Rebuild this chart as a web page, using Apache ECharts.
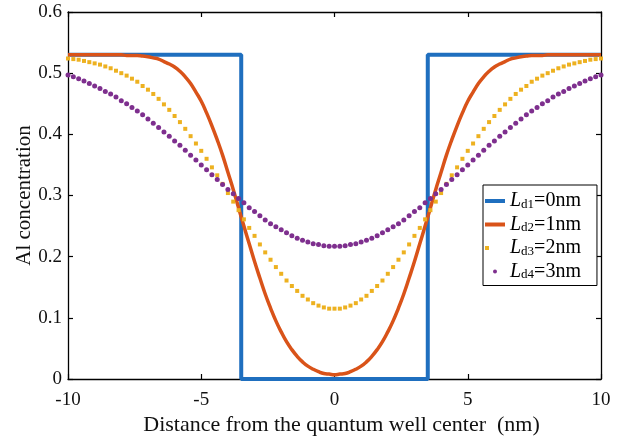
<!DOCTYPE html>
<html lang="en">
<head>
    <meta charset="UTF-8">
    <title>Al concentration profile</title>
    <script src="https://cdn.jsdelivr.net/npm/echarts@6/dist/echarts.min.js"></script>
    <style>
        html, body { margin: 0; padding: 0; background: #fff; }
        #main { width: 624px; height: 439px; }
    </style>
</head>
<body>
    <div id="main"></div>
    <script>
        // 横坐标：距量子阱中心的距离 (nm)
        var xs = [
            -10, -9.8, -9.6, -9.4, -9.2, -9, -8.8, -8.6, -8.4, -8.2,
            -8, -7.8, -7.6, -7.4, -7.2, -7, -6.8, -6.6, -6.4, -6.2,
            -6, -5.8, -5.6, -5.4, -5.2, -5, -4.8, -4.6, -4.4, -4.2,
            -4, -3.8, -3.6, -3.4, -3.2, -3, -2.8, -2.6, -2.4, -2.2,
            -2, -1.8, -1.6, -1.4, -1.2, -1, -0.8, -0.6, -0.4, -0.2,
            0,
            0.2, 0.4, 0.6, 0.8, 1, 1.2, 1.4, 1.6, 1.8, 2,
            2.2, 2.4, 2.6, 2.8, 3, 3.2, 3.4, 3.6, 3.8, 4,
            4.2, 4.4, 4.6, 4.8, 5, 5.2, 5.4, 5.6, 5.8, 6,
            6.2, 6.4, 6.6, 6.8, 7, 7.2, 7.4, 7.6, 7.8, 8,
            8.2, 8.4, 8.6, 8.8, 9, 9.2, 9.4, 9.6, 9.8, 10
        ];

        // Ld1=0nm 方形阱
        var stepX = [-10, -3.5, -3.5, 3.5, 3.5, 10];
        var stepY = [0.53, 0.53, 0, 0, 0.53, 0.53];

        // Ld2=1nm
        var ld2 = [
            0.530, 0.530, 0.530, 0.530, 0.530, 0.530, 0.530, 0.530, 0.530, 0.530,
            0.530, 0.529, 0.529, 0.529, 0.528, 0.527, 0.525, 0.523, 0.519, 0.515,
            0.510, 0.503, 0.494, 0.483, 0.469, 0.454, 0.435, 0.414, 0.391, 0.366,
            0.338, 0.310, 0.280, 0.250, 0.221, 0.192, 0.165, 0.139, 0.116, 0.095,
            0.077, 0.061, 0.048, 0.037, 0.028, 0.021, 0.016, 0.012, 0.009, 0.008,
            0.007,
            0.008, 0.009, 0.012, 0.016, 0.021, 0.028, 0.037, 0.048, 0.061, 0.077,
            0.095, 0.116, 0.139, 0.165, 0.192, 0.221, 0.250, 0.280, 0.310, 0.338,
            0.366, 0.391, 0.414, 0.435, 0.454, 0.469, 0.483, 0.494, 0.503, 0.510,
            0.515, 0.519, 0.523, 0.525, 0.527, 0.528, 0.529, 0.529, 0.529, 0.530,
            0.530, 0.530, 0.530, 0.530, 0.530, 0.530, 0.530, 0.530, 0.530, 0.530
        ];

        // Ld3=2nm
        var ld3 = [
            0.524, 0.523, 0.522, 0.520, 0.518, 0.516, 0.514, 0.511, 0.508, 0.504,
            0.500, 0.496, 0.491, 0.486, 0.479, 0.473, 0.466, 0.458, 0.449, 0.440,
            0.430, 0.420, 0.409, 0.397, 0.385, 0.373, 0.360, 0.346, 0.333, 0.319,
            0.304, 0.290, 0.276, 0.261, 0.247, 0.234, 0.220, 0.207, 0.195, 0.183,
            0.172, 0.161, 0.152, 0.144, 0.136, 0.130, 0.124, 0.120, 0.117, 0.115,
            0.115,
            0.115, 0.117, 0.120, 0.124, 0.130, 0.136, 0.144, 0.152, 0.161, 0.172,
            0.183, 0.195, 0.207, 0.220, 0.234, 0.247, 0.261, 0.276, 0.290, 0.304,
            0.319, 0.333, 0.346, 0.360, 0.373, 0.385, 0.397, 0.409, 0.420, 0.430,
            0.440, 0.449, 0.458, 0.466, 0.473, 0.479, 0.486, 0.491, 0.496, 0.500,
            0.504, 0.508, 0.511, 0.514, 0.516, 0.518, 0.520, 0.522, 0.523, 0.524
        ];

        // Ld4=3nm
        var ld4 = [
            0.497, 0.494, 0.491, 0.487, 0.483, 0.479, 0.475, 0.470, 0.466, 0.461,
            0.455, 0.450, 0.444, 0.438, 0.432, 0.425, 0.418, 0.411, 0.404, 0.397,
            0.389, 0.382, 0.374, 0.366, 0.358, 0.350, 0.342, 0.334, 0.326, 0.318,
            0.310, 0.303, 0.295, 0.288, 0.280, 0.274, 0.267, 0.260, 0.254, 0.249,
            0.244, 0.239, 0.234, 0.230, 0.227, 0.224, 0.221, 0.220, 0.218, 0.217,
            0.217,
            0.217, 0.218, 0.220, 0.221, 0.224, 0.227, 0.230, 0.234, 0.239, 0.244,
            0.249, 0.254, 0.260, 0.267, 0.274, 0.280, 0.288, 0.295, 0.303, 0.310,
            0.318, 0.326, 0.334, 0.342, 0.350, 0.358, 0.366, 0.374, 0.382, 0.389,
            0.397, 0.404, 0.411, 0.418, 0.425, 0.432, 0.438, 0.444, 0.450, 0.455,
            0.461, 0.466, 0.470, 0.475, 0.479, 0.483, 0.487, 0.491, 0.494, 0.497
        ];

        var names = ['Ld1=0nm', 'Ld2=1nm', 'Ld3=2nm', 'Ld4=3nm'];
        var subs = ['d1', 'd2', 'd3', 'd4'];
        var widths = ['0nm', '1nm', '2nm', '3nm'];
        var colors = ['#1f6fbf', '#d95319', '#edb120', '#7e2f8e'];

        function pairs(x, y) {
            var out = [];
            for (var i = 0; i < x.length; i++) out.push([x[i], y[i]]);
            return out;
        }

        var serif = 'Liberation Serif';
        var myChart = echarts.init(document.getElementById('main'));

        var axisCommon = {
            axisLine: { show: true, onZero: false, lineStyle: { color: '#000', width: 1.3 } },
            axisTick: { show: true, inside: true, length: 5, lineStyle: { color: '#000', width: 1.2 } },
            splitLine: { show: false }
        };

        myChart.setOption({
            animation: false,
            backgroundColor: '#fff',
            color: colors,
            grid: { left: 68, right: 23, top: 12, bottom: 60, outerBoundsMode: 'none' },
            legend: {
                orient: 'vertical',
                left: 483,
                top: 185,
                padding: [6, 16, 4, 2],
                itemWidth: 20,
                itemHeight: 4,
                itemGap: 3.5,
                itemTextGap: 8,
                borderColor: '#000',
                borderWidth: 1,
                backgroundColor: '#fff',
                data: [
                    { name: names[0], icon: 'rect' },
                    { name: names[1], icon: 'rect' },
                    { name: names[2], icon: 'square' },
                    { name: names[3], icon: 'circle' }
                ],
                formatter: function (name) {
                    var i = names.indexOf(name);
                    return '{i|L}{s|' + subs[i] + '}{t|=' + widths[i] + '}';
                },
                textStyle: {
                    fontFamily: serif, fontSize: 20, color: '#000',
                    rich: {
                        i: { fontFamily: serif, fontSize: 20, fontStyle: 'italic', color: '#000', lineHeight: 20 },
                        s: { fontFamily: serif, fontSize: 13, color: '#000', verticalAlign: 'bottom', lineHeight: 8 },
                        t: { fontFamily: serif, fontSize: 20, color: '#000', lineHeight: 20 }
                    }
                }
            },
            xAxis: [
                Object.assign({}, axisCommon, {
                    type: 'value', min: -10, max: 10, interval: 5,
                    name: 'Distance from the quantum well center  (nm)',
                    nameLocation: 'middle', nameGap: 35, nameMoveOverlap: false,
                    nameTextStyle: { fontFamily: serif, fontSize: 22, color: '#111', padding: [0, 0, 0, 14] },
                    axisLabel: { fontFamily: serif, fontSize: 19, color: '#111', margin: 12 }
                }),
                Object.assign({}, axisCommon, {
                    type: 'value', min: -10, max: 10, interval: 5, position: 'top',
                    axisLabel: { show: false }
                })
            ],
            yAxis: [
                Object.assign({}, axisCommon, {
                    type: 'value', min: 0, max: 0.6, interval: 0.1,
                    name: 'Al concentration',
                    nameLocation: 'middle', nameGap: 33, nameMoveOverlap: false,
                    nameTextStyle: { fontFamily: serif, fontSize: 21, color: '#111' },
                    axisLabel: { fontFamily: serif, fontSize: 19, color: '#111', margin: 6 }
                }),
                Object.assign({}, axisCommon, {
                    type: 'value', min: 0, max: 0.6, interval: 0.1, position: 'right',
                    axisLabel: { show: false }
                })
            ],
            series: [
                {
                    name: names[0], type: 'line', data: pairs(stepX, stepY),
                    symbol: 'none', lineStyle: { width: 4, color: colors[0] }, z: 2
                },
                {
                    name: names[1], type: 'line', data: pairs(xs, ld2), smooth: true,
                    symbol: 'none', lineStyle: { width: 3.5, color: colors[1] }, z: 3
                },
                {
                    name: names[2], type: 'scatter', data: pairs(xs, ld3),
                    symbol: 'rect', symbolSize: 4, itemStyle: { color: colors[2], opacity: 1 }, z: 4
                },
                {
                    name: names[3], type: 'scatter', data: pairs(xs, ld4),
                    symbol: 'circle', symbolSize: 5, itemStyle: { color: colors[3], opacity: 1 }, z: 5
                }
            ]
        });
    </script>
</body>
</html>
